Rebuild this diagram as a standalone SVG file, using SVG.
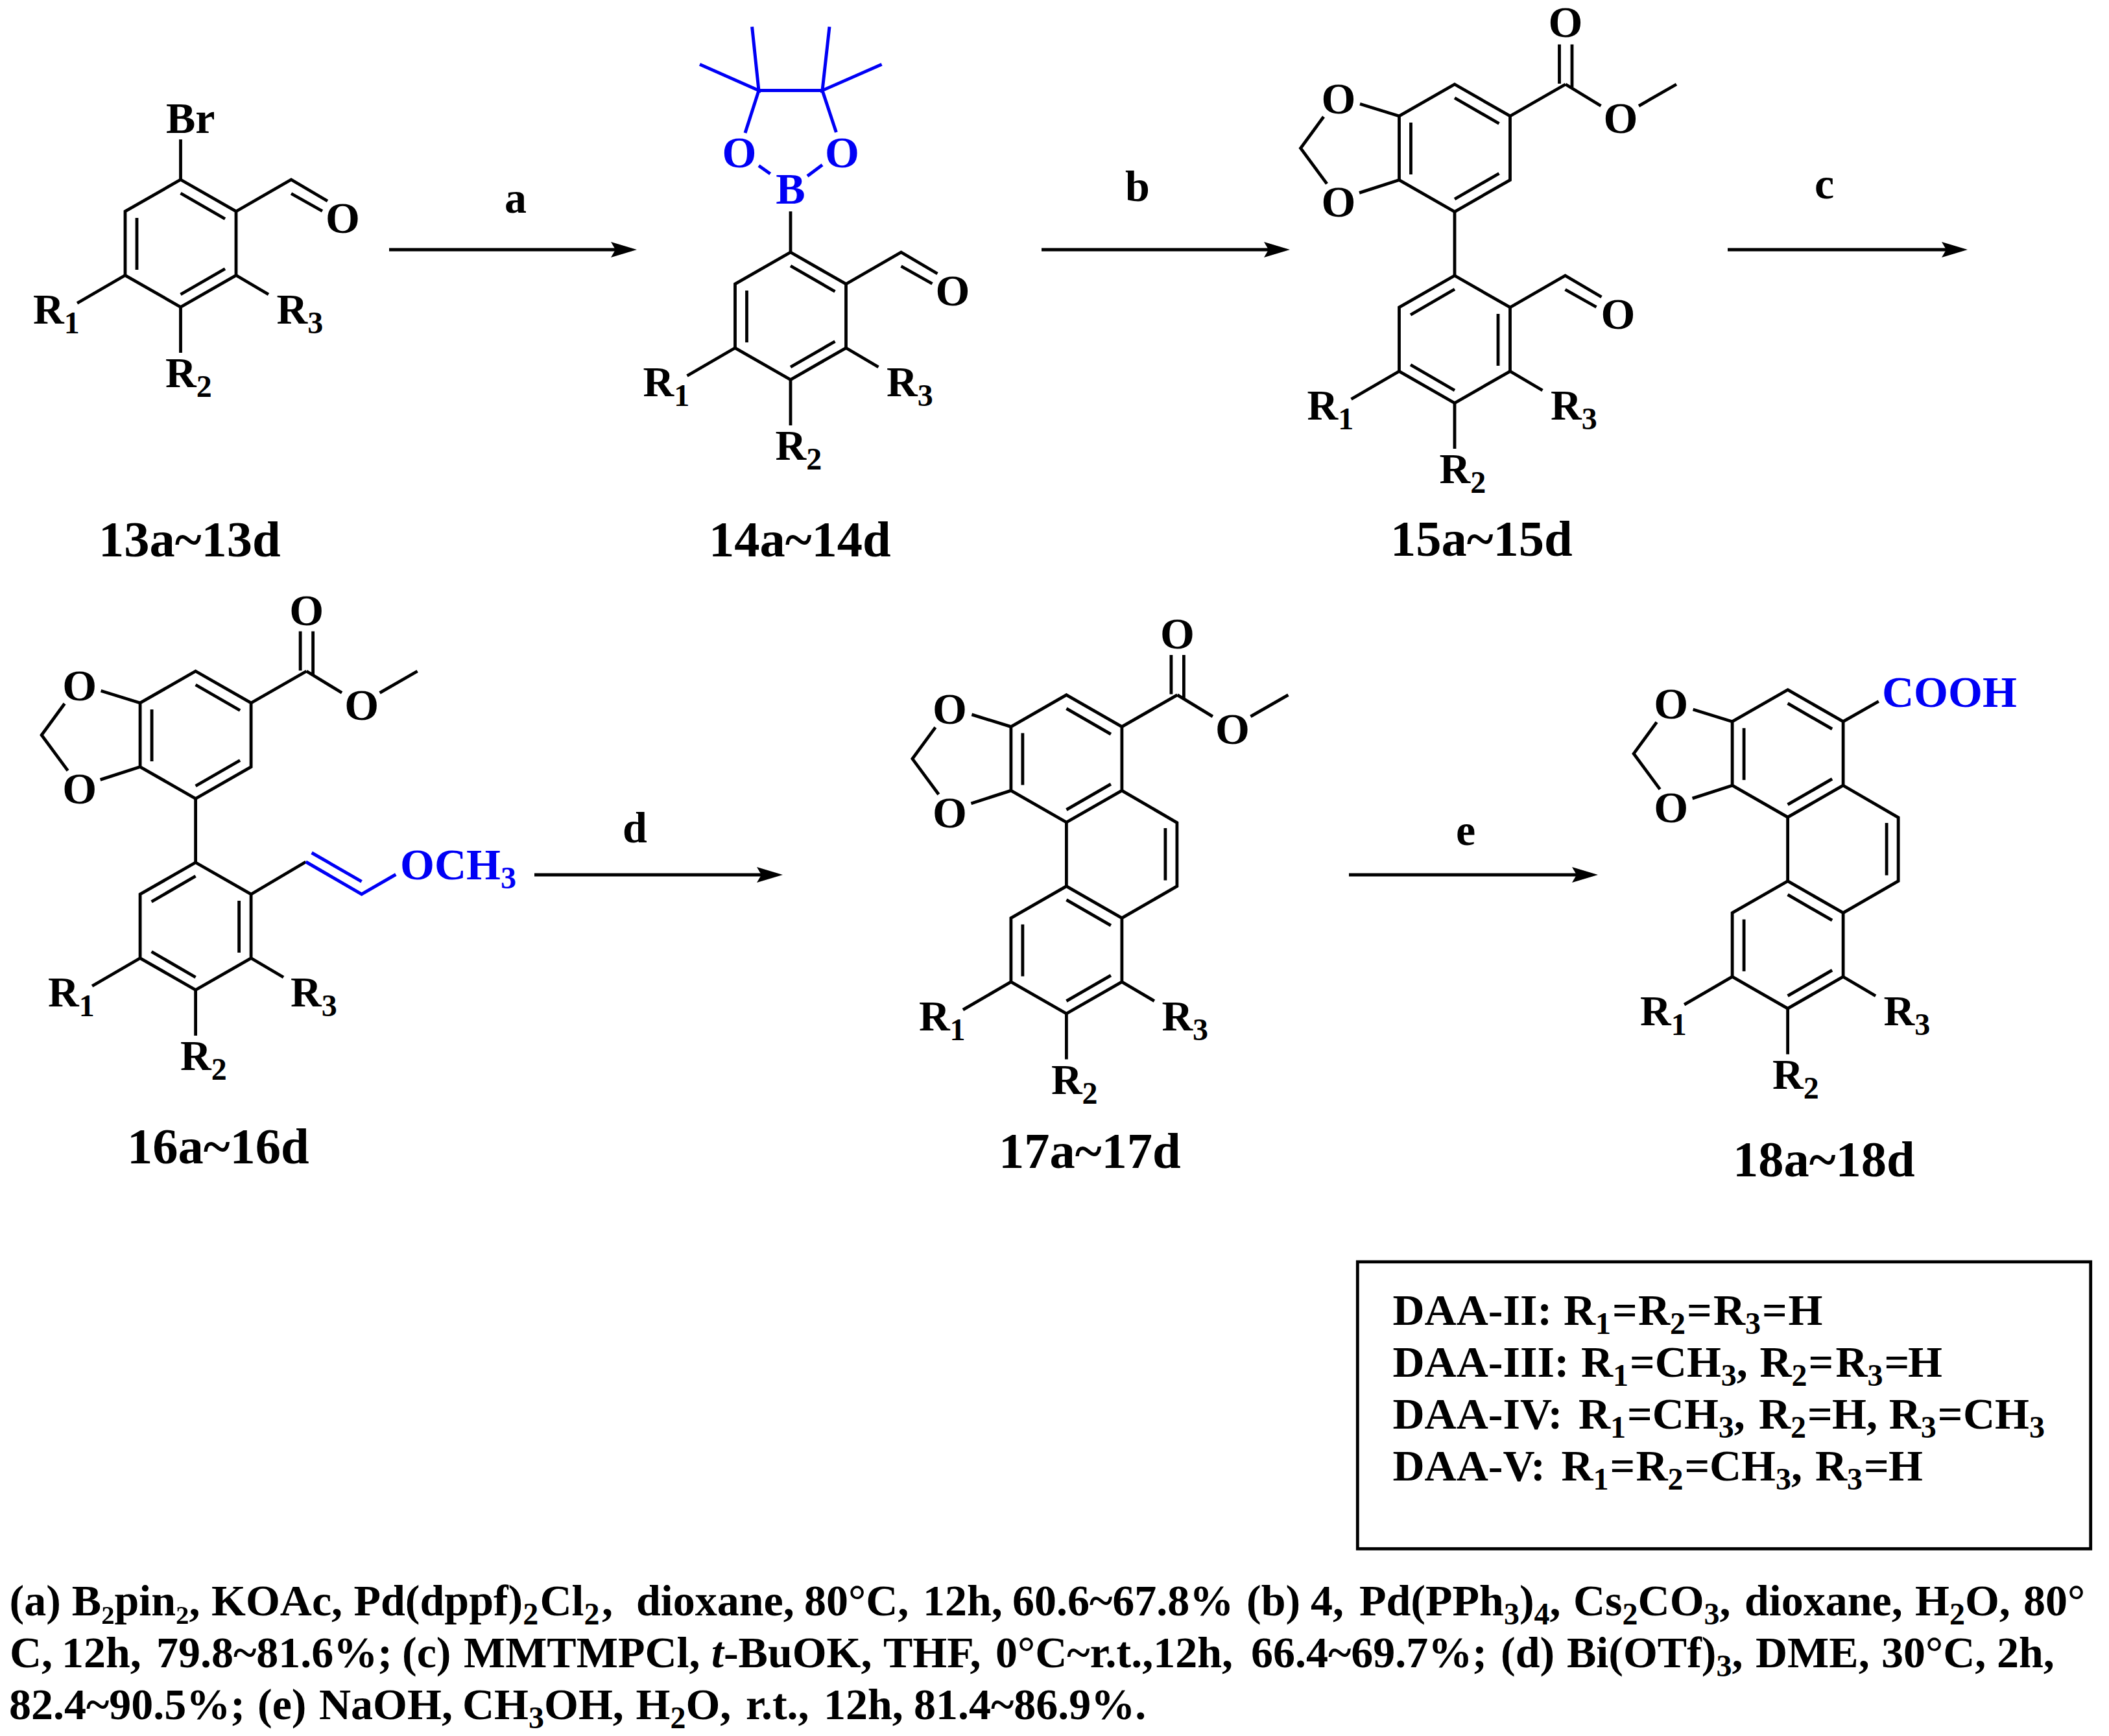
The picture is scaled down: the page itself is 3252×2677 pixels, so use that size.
<svg xmlns="http://www.w3.org/2000/svg" xmlns:xlink="http://www.w3.org/1999/xlink" width="3252" height="2677" viewBox="0 0 3252 2677">
<style>
text{font-family:"Liberation Serif","Times New Roman",serif;font-weight:bold;font-size:68px;fill:#000}
.r{font-size:66px}
.s{font-size:48px}
.l{font-size:78.5px}
.m{text-anchor:middle}
.blue{fill:#0000f5}
.k{fill:none;stroke:#000;stroke-width:4.8}
.u{fill:none;stroke:#0000f5;stroke-width:5}
.a{stroke:#000;stroke-width:5;fill:none;marker-end:url(#head)}
</style>
<defs>
<marker id="head" markerUnits="userSpaceOnUse" markerWidth="42" markerHeight="26" refX="30" refY="12" orient="auto" overflow="visible"><path d="M0 0L40 12L0 24L7 12Z" fill="#000"/></marker>
<path id="ringA" class="k" d="M0 0L85.5 49V147.5L0 196.5L-85.5 147.5V49ZM0 21L68.5 60.5M-67.5 59V139M0 177L68.5 137.5"/>
<path id="ringB" class="k" d="M0 0L85.5 49V147.5L0 196.5L-85.5 147.5V49ZM0 21L-68 60.5M67 59V139M0 177L-68 137.5"/>
<path id="subs" class="k" d="M-85.5 147.5L-159.5 190.5M85.5 147.5L135.5 177M0 196.5V267"/>
<path id="cho" class="k" d="M85.5 49L170.5 0L226.5 33M170.5 21.5L218.5 48.5"/>
<path id="ester" class="k" d="M85.5 49L171 0M161.5 -1V-61.5M181 5V-61.5M171 0L225.5 33.3M284 33.3L342 0"/>
<path id="diox" class="k" d="M-85.5 49L-146 30.3M-85.5 147.5L-147 167.4M-202 50L-237.5 98.5L-197 153.4"/>
<path id="mid" class="k" d="M0 0V-98M85.5 49L170.5 0V-98L85.5 -147.5M152.5 -9V-89.6"/>
</defs>
<rect width="3252" height="2677" fill="#fff"/>

<g id="connectors">
<line class="a" x1="600" y1="385" x2="972" y2="385"/>
<line class="a" x1="1606" y1="385" x2="1979" y2="385"/>
<line class="a" x1="2664" y1="385" x2="3024" y2="385"/>
<line class="a" x1="824" y1="1349" x2="1197" y2="1349"/>
<line class="a" x1="2080" y1="1349" x2="2454" y2="1349"/>
<text class="m" x="795" y="328">a</text>
<text class="m" x="1754" y="310">b</text>
<text class="m" x="2813" y="306">c</text>
<text class="m" x="979" y="1299">d</text>
<text class="m" x="2260" y="1303">e</text>
</g>

<g id="compound-13">
<g transform="translate(278.5 277)">
<use href="#ringA"/><use href="#subs"/><use href="#cho"/>
<path class="k" d="M0 -62V0"/>
<text x="-22.5" y="-72">Br</text>
<text class="m" x="250" y="82">O</text>
<text class="r" x="-227.5" y="221.5">R<tspan class="s" dy="15">1</tspan></text>
<text class="r" x="148" y="221.5">R<tspan class="s" dy="15">3</tspan></text>
<text class="r" x="-23.5" y="320">R<tspan class="s" dy="15">2</tspan></text>
</g>
<text class="l" x="152" y="858">13a~13d</text>
</g>

<g id="compound-14">
<g transform="translate(1219 389)">
<use href="#ringA"/><use href="#subs"/><use href="#cho"/>
<path class="k" d="M0 -63V0"/>
<path class="u" d="M-49 -133.5L-31.3 -121M49 -134.7L26 -117.5M-70 -184L-49 -249.5H49L70.4 -185M-59.4 -347.7L-49 -249.5L-140 -289.7M60 -347.7L49 -249.5L140.6 -289.7"/>
<text class="m blue" x="0" y="-75">B</text>
<text class="m blue" x="-79" y="-131">O</text>
<text class="m blue" x="79.5" y="-131">O</text>
<text class="m" x="250" y="82">O</text>
<text class="r" x="-227.5" y="221.5">R<tspan class="s" dy="15">1</tspan></text>
<text class="r" x="148" y="221.5">R<tspan class="s" dy="15">3</tspan></text>
<text class="r" x="-23.5" y="320">R<tspan class="s" dy="15">2</tspan></text>
</g>
<text class="l" x="1093" y="858">14a~14d</text>
</g>

<g id="compound-15">
<g transform="translate(2243 425)">
<use href="#ringB"/><use href="#subs"/><use href="#cho"/>
<path class="k" d="M0 -98.5V0"/>
<g transform="translate(0 -295)">
<use href="#ringA"/><use href="#ester"/><use href="#diox"/>
<text class="m" x="171" y="-73">O</text>
<text class="m" x="256" y="75">O</text>
<text class="m" x="-179" y="44.5">O</text>
<text class="m" x="-179" y="203.5">O</text>
</g>
<text class="m" x="252" y="82">O</text>
<text class="r" x="-227.5" y="221.5">R<tspan class="s" dy="15">1</tspan></text>
<text class="r" x="148" y="221.5">R<tspan class="s" dy="15">3</tspan></text>
<text class="r" x="-23.5" y="320">R<tspan class="s" dy="15">2</tspan></text>
</g>
<text class="l" x="2144" y="857">15a~15d</text>
</g>

<g id="compound-16">
<g transform="translate(301.6 1330)">
<use href="#ringB"/><use href="#subs"/>
<path class="k" d="M0 -98.5V0M85.5 49L170 -1"/>
<path class="u" d="M170 -1L256 48.8L308.7 18.5M179 -15L256 29.4"/>
<g transform="translate(0 -295)">
<use href="#ringA"/><use href="#ester"/><use href="#diox"/>
<text class="m" x="171" y="-71.5">O</text>
<text class="m" x="256" y="75">O</text>
<text class="m" x="-179" y="44.5">O</text>
<text class="m" x="-179" y="203.5">O</text>
</g>
<text class="blue" x="315.5" y="25.8">OCH<tspan class="s" dy="14">3</tspan></text>
<text class="r" x="-227.5" y="221.5">R<tspan class="s" dy="15">1</tspan></text>
<text class="r" x="146.5" y="221.5">R<tspan class="s" dy="15">3</tspan></text>
<text class="r" x="-23.5" y="320">R<tspan class="s" dy="15">2</tspan></text>
</g>
<text class="l" x="196" y="1794">16a~16d</text>
</g>

<g id="compound-17">
<g transform="translate(1644.4 1366.6)">
<use href="#ringA"/><use href="#subs"/><use href="#mid"/>
<g transform="translate(0 -295)">
<use href="#ringA"/><use href="#ester"/><use href="#diox"/>
<text class="m" x="171" y="-71.5">O</text>
<text class="m" x="256" y="75">O</text>
<text class="m" x="-180" y="44.5">O</text>
<text class="m" x="-180" y="204">O</text>
</g>
<text class="r" x="-227.5" y="222">R<tspan class="s" dy="15">1</tspan></text>
<text class="r" x="147" y="222">R<tspan class="s" dy="15">3</tspan></text>
<text class="r" x="-23.5" y="320">R<tspan class="s" dy="15">2</tspan></text>
</g>
<text class="l" x="1540" y="1801">17a~17d</text>
</g>

<g id="compound-18">
<g transform="translate(2756.6 1358.7)">
<use href="#ringA"/><use href="#subs"/><use href="#mid"/>
<g transform="translate(0 -295)">
<use href="#ringA"/><use href="#diox"/>
<path class="k" d="M85.5 49L140.2 17.8"/>
<text class="blue" x="145.4" y="25.8">COOH</text>
<text class="m" x="-180" y="44.5">O</text>
<text class="m" x="-180" y="204">O</text>
</g>
<text class="r" x="-227.5" y="222">R<tspan class="s" dy="15">1</tspan></text>
<text class="r" x="148" y="222">R<tspan class="s" dy="15">3</tspan></text>
<text class="r" x="-23.5" y="320">R<tspan class="s" dy="15">2</tspan></text>
</g>
<text class="l" x="2672" y="1814">18a~18d</text>
</g>

<g id="legend">
<rect x="2093.3" y="1945.8" width="1130.4" height="442.5" fill="none" stroke="#000" stroke-width="4.8"/>
<text x="2147.5" y="2042.7">DAA-II: <tspan x="2411">R</tspan><tspan class="s" dy="14">1</tspan><tspan dy="-14" dx="2">=</tspan><tspan x="2526">R</tspan><tspan class="s" dy="14">2</tspan><tspan dy="-14" dx="2">=</tspan><tspan x="2642">R</tspan><tspan class="s" dy="14">3</tspan><tspan dy="-14" dx="2">=</tspan><tspan x="2757.5">H</tspan></text>
<text x="2147.5" y="2122.7">DAA-III: <tspan x="2438">R</tspan><tspan class="s" dy="14">1</tspan><tspan dy="-14" dx="2">=CH</tspan><tspan class="s" dy="14">3</tspan><tspan dy="-14">, </tspan><tspan x="2713.5">R</tspan><tspan class="s" dy="14">2</tspan><tspan dy="-14" dx="2">=</tspan><tspan x="2830.5">R</tspan><tspan class="s" dy="14">3</tspan><tspan dy="-14" dx="2">=</tspan><tspan x="2942">H</tspan></text>
<text x="2147.5" y="2202.7">DAA-IV: <tspan x="2434">R</tspan><tspan class="s" dy="14">1</tspan><tspan dy="-14" dx="2">=CH</tspan><tspan class="s" dy="14">3</tspan><tspan dy="-14">, </tspan><tspan x="2712">R</tspan><tspan class="s" dy="14">2</tspan><tspan dy="-14" dx="2">=</tspan><tspan x="2825">H</tspan>, <tspan x="2912.7">R</tspan><tspan class="s" dy="14">3</tspan><tspan dy="-14" dx="2">=</tspan><tspan x="3027">CH</tspan><tspan class="s" dy="14">3</tspan></text>
<text x="2147.5" y="2282.7">DAA-V: <tspan x="2407.5">R</tspan><tspan class="s" dy="14">1</tspan><tspan dy="-14" dx="2">=</tspan><tspan x="2522.5">R</tspan><tspan class="s" dy="14">2</tspan><tspan dy="-14" dx="2">=</tspan><tspan x="2636">CH</tspan><tspan class="s" dy="14">3</tspan><tspan dy="-14">, </tspan><tspan x="2799">R</tspan><tspan class="s" dy="14">3</tspan><tspan dy="-14" dx="2">=</tspan><tspan x="2912">H</tspan></text>
</g>

<g id="conditions">
<text x="14.5" y="2491">(a) B₂pin₂, <tspan x="326">KOAc, </tspan><tspan x="545.5">Pd(dppf)</tspan><tspan class="s" dy="14">2</tspan><tspan x="832.5" dy="-14">Cl</tspan><tspan class="s" dy="14">2</tspan><tspan x="928" dy="-14">,  </tspan><tspan x="981">dioxane, </tspan><tspan x="1240">80°C, </tspan><tspan x="1423">12h, </tspan><tspan x="1561">60.6~67.8% </tspan><tspan x="1922">(b) </tspan><tspan x="2021">4, </tspan><tspan x="2096">Pd(PPh</tspan><tspan class="s" dy="14">3</tspan><tspan dy="-14">)</tspan><tspan class="s" dy="14">4</tspan><tspan dy="-14">, </tspan><tspan x="2426">Cs</tspan><tspan class="s" dy="14">2</tspan><tspan dy="-14">CO</tspan><tspan class="s" dy="14">3</tspan><tspan dy="-14">, </tspan><tspan x="2690">dioxane, </tspan><tspan x="2953">H</tspan><tspan class="s" dy="14">2</tspan><tspan dy="-14">O, </tspan><tspan x="3120">80°</tspan></text>
<text x="15" y="2571">C, <tspan x="95">12h, </tspan><tspan x="241">79.8~81.6%; </tspan><tspan x="620">(c) </tspan><tspan x="715">MMTMPCl, </tspan><tspan x="1097" font-style="italic">t</tspan>-BuOK, <tspan x="1362">THF, </tspan><tspan x="1535">0°C~r.t.,12h, </tspan><tspan x="1929">66.4~69.7%; </tspan><tspan x="2314">(d) </tspan><tspan x="2416">Bi(OTf)</tspan><tspan class="s" dy="14">3</tspan><tspan dy="-14">, </tspan><tspan x="2707">DME, </tspan><tspan x="2901">30°C, </tspan><tspan x="3079">2h,</tspan></text>
<text x="14" y="2651">82.4~90.5%; <tspan x="397">(e) </tspan><tspan x="492">NaOH, </tspan><tspan x="713">CH</tspan><tspan class="s" dy="14">3</tspan><tspan dy="-14">OH, </tspan><tspan x="980.5">H</tspan><tspan class="s" dy="14">2</tspan><tspan dy="-14">O, </tspan><tspan x="1150">r.t., </tspan><tspan x="1270">12h, </tspan><tspan x="1409">81.4~86.9%.</tspan></text>
</g>
</svg>
